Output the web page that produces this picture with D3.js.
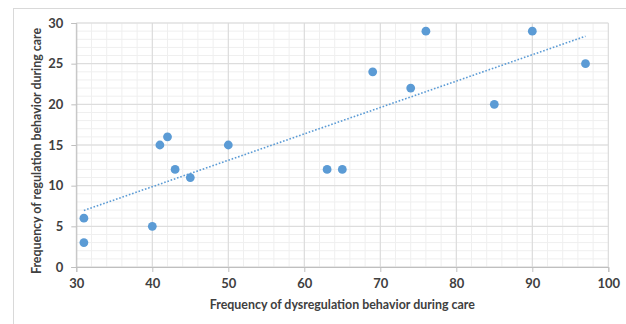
<!DOCTYPE html>
<html>
<head>
<meta charset="utf-8">
<script src="https://cdn.jsdelivr.net/npm/d3@7"></script>
<style>
  html, body { margin: 0; padding: 0; background: #fff; }
  svg { display: block; }
  text { font-family: Lato, "Open Sans", sans-serif; font-weight: bold; fill: #404040; }
</style>
</head>
<body>
<svg id="chart" width="626" height="324"></svg>
<script>
// Data
const dysregulation = [31, 31, 40, 41, 42, 43, 45, 50, 63, 65, 69, 74, 76, 85, 90, 97];
const regulation    = [ 6,  3,  5, 15, 16, 12, 11, 15, 12, 12, 24, 22, 29, 20, 29, 25];
const xTicks = [30, 40, 50, 60, 70, 80, 90, 100];
const yTicks = [0, 5, 10, 15, 20, 25, 30];
const xTitle = "Frequency of dysregulation behavior during care";
const yTitle = "Frequency of regulation behavior during care";

(function () {
const svg = d3.select("#chart");
const pl = 76.3, pr = 608.3, pt = 23, pb = 267;

const x = d3.scaleLinear().domain([30, 100]).range([pl, pr]);
const y = d3.scaleLinear().domain([0, 30]).range([pb, pt]);

// outer chart border
svg.append("rect").attr("x", 13.5).attr("y", 8.5).attr("width", 700).attr("height", 400)
  .attr("fill", "none").attr("stroke", "#d9d9d9").attr("stroke-width", 1);

// minor grid
const g = svg.append("g");
d3.range(30, 100.01, 2).forEach(v => {
  g.append("line").attr("x1", x(v)).attr("x2", x(v)).attr("y1", pt).attr("y2", pb)
    .attr("stroke", "#efefef").attr("stroke-width", 1);
});
d3.range(0, 30.01, 1).forEach(v => {
  g.append("line").attr("x1", pl).attr("x2", pr).attr("y1", y(v)).attr("y2", y(v))
    .attr("stroke", "#efefef").attr("stroke-width", 1);
});
// major grid
xTicks.forEach(v => {
  g.append("line").attr("x1", x(v)).attr("x2", x(v)).attr("y1", pt).attr("y2", pb)
    .attr("stroke", "#d9d9d9").attr("stroke-width", 1);
});
yTicks.forEach(v => {
  g.append("line").attr("x1", pl).attr("x2", pr).attr("y1", y(v)).attr("y2", y(v))
    .attr("stroke", "#d9d9d9").attr("stroke-width", 1);
});

// axes
const xAxis = svg.append("g").attr("transform", `translate(0,${pb})`)
  .call(d3.axisBottom(x).tickValues(xTicks).tickSize(5).tickPadding(7));
const yAxis = svg.append("g").attr("transform", `translate(${pl},0)`)
  .call(d3.axisLeft(y).tickValues(yTicks).tickSize(5).tickPadding(8));
[xAxis, yAxis].forEach(a => {
  a.select(".domain").attr("stroke", "#bfbfbf");
  a.selectAll(".tick line").attr("stroke", "#bfbfbf");
  a.selectAll("text").attr("font-size", 13).attr("fill", "#3a3a3a")
    .style("font-family", "Lato, sans-serif").style("font-weight", "bold");
});

// trendline (least squares fit of the data)
const n = dysregulation.length;
const mx = d3.mean(dysregulation), my = d3.mean(regulation);
let sxy = 0, sxx = 0;
for (let i = 0; i < n; i++) {
  sxy += (dysregulation[i] - mx) * (regulation[i] - my);
  sxx += (dysregulation[i] - mx) ** 2;
}
const slope = sxy / sxx, intercept = my - slope * mx;
const x0 = d3.min(dysregulation), x1 = d3.max(dysregulation);
svg.append("line")
  .attr("x1", x(x0)).attr("y1", y(slope * x0 + intercept))
  .attr("x2", x(x1)).attr("y2", y(slope * x1 + intercept))
  .attr("stroke", "#5b9bd5").attr("stroke-width", 1.6)
  .attr("stroke-dasharray", "1.6 1.8");

// points
svg.append("g").selectAll("circle").data(dysregulation).join("circle")
  .attr("cx", (d) => x(d)).attr("cy", (d, i) => y(regulation[i]))
  .attr("r", 4.4).attr("fill", "#5b9bd5");

// titles
svg.append("text").attr("x", (pl + pr) / 2).attr("y", 309)
  .attr("text-anchor", "middle").attr("font-size", 12.4).attr("fill", "#3a3a3a").text(xTitle);
svg.append("text").attr("transform", `translate(41,${(pt + pb) / 2 + 6}) rotate(-90)`)
  .attr("text-anchor", "middle").attr("font-size", 12.4).attr("fill", "#3a3a3a").text(yTitle);
})();
</script>
</body>
</html>
